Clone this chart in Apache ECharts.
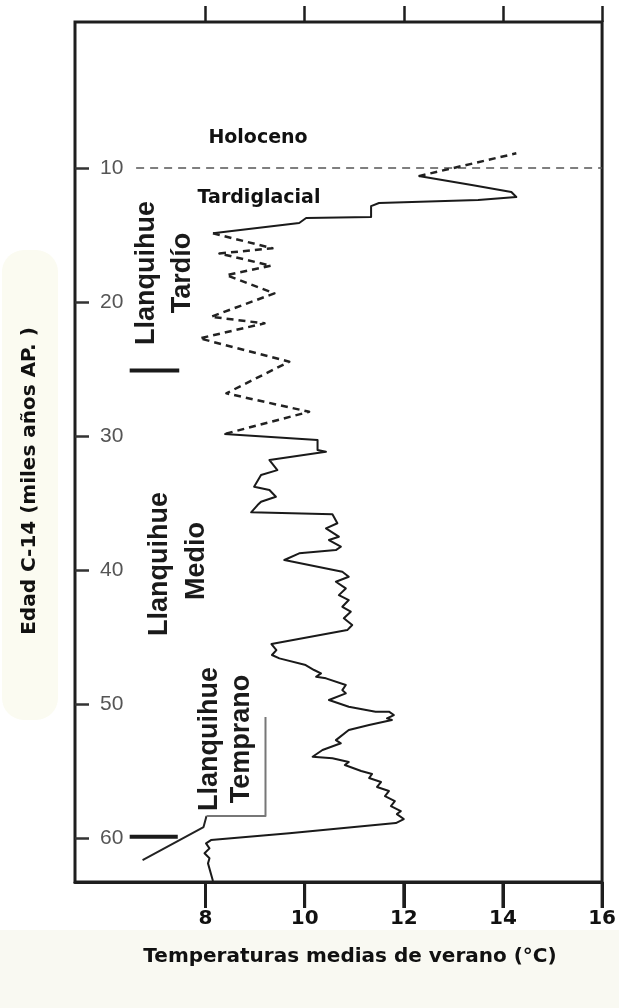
<!DOCTYPE html>
<html><head><meta charset="utf-8">
<script src="https://cdn.jsdelivr.net/npm/echarts@6/dist/echarts.min.js"></script>
<style>html,body{margin:0;padding:0;background:#fff}#c{width:619px;height:1008px}</style>
</head><body><div id="c"></div>
<script>
// ---- data (temperature °C, age ka) ----
const xTicks = [8, 10, 12, 14, 16];
const yTicks = [10, 20, 30, 40, 50, 60];
const holocenoDashed = [[12.30,10.60],[14.27,8.90]];
const tardiglacialSolid = [[12.30,10.60],[13.37,11.27],[14.17,11.79],[14.27,12.16],[13.50,12.39],[11.50,12.61],[11.34,12.84],[11.34,13.66],[10.03,13.73],[9.89,14.10],[8.15,14.87]];
const tardioDashed = [[8.15,14.87],[9.35,15.99],[8.28,16.37],[9.32,17.29],[8.42,17.99],[9.39,19.35],[8.11,21.10],[9.19,21.59],[7.88,22.71],[9.69,24.45],[8.42,26.81],[10.09,28.19],[8.38,29.85]];
const medioTempranoSolid = [[8.38,29.85],[10.26,30.30],[10.26,31.04],[10.43,31.17],[9.29,31.79],[9.45,32.54],[9.12,32.91],[8.98,33.78],[9.29,34.03],[9.42,34.53],[9.12,34.90],[9.05,35.15],[8.92,35.69],[10.56,35.84],[10.66,36.51],[10.43,36.89],[10.69,37.51],[10.49,37.76],[10.73,38.26],[10.63,38.51],[9.89,38.75],[9.59,39.25],[10.76,40.13],[10.89,40.50],[10.63,40.87],[10.83,41.37],[10.69,41.87],[10.89,42.24],[10.76,42.74],[10.93,43.11],[10.79,43.60],[10.96,44.10],[10.86,44.48],[9.33,45.52],[9.43,45.97],[9.34,46.34],[9.49,46.59],[10.02,47.09],[10.19,47.46],[10.33,47.71],[10.23,47.96],[10.43,48.08],[10.83,48.58],[10.76,48.96],[10.83,49.20],[10.49,49.70],[10.89,50.20],[11.43,50.57],[11.70,50.57],[11.80,50.82],[11.66,51.07],[11.76,51.19],[11.30,51.57],[10.89,51.94],[10.63,52.69],[10.73,52.93],[10.36,53.43],[10.16,53.93],[10.56,54.05],[10.89,54.33],[10.81,54.55],[11.14,55.00],[11.36,55.22],[11.30,55.52],[11.54,55.82],[11.46,56.19],[11.70,56.49],[11.62,56.87],[11.82,57.24],[11.74,57.61],[11.94,57.99],[11.86,58.21],[12.00,58.58],[11.84,58.88],[9.69,59.65],[8.11,60.15],[8.01,60.40],[8.08,60.77],[7.98,61.14],[8.08,61.51],[8.05,61.89],[8.15,63.20]];
const holocenoBoundary = [[6.60,10],[16,10]];
const tempranoBracketDark = [[6.73,61.64],[7.96,59.18],[8.02,58.36]];
const tempranoBracketGray = [[8.02,58.36],[9.21,58.36],[9.21,50.97]];
const boundaryBar60 = [[6.47,59.9],[7.44,59.9]];
const boundaryBar25 = [[6.47,25.1],[7.47,25.1]];

const X_MIN = 5.367, X_MAX = 16, Y_MIN = -0.9, Y_MAX = 63.28;
const BOLD = "'DejaVu Sans', sans-serif";
const COND = "'Liberation Sans', Arial, sans-serif";

const chart = echarts.init(document.getElementById('c'), null, {renderer: 'canvas'});

function lineSeries(data, color, width, type) {
  return {type: 'line', data: data, symbol: 'none', silent: true, clip: false,
    lineStyle: {color: color, width: width, type: type || 'solid', cap: 'butt', join: 'round'}};
}

function vText(text, x, y, size) {
  return {type: 'text', x: x, y: y, rotation: Math.PI / 2,
    style: {text: text, fill: '#1a1a1a', font: 'bold ' + size + 'px ' + COND,
      align: 'center', verticalAlign: 'middle'}};
}

const option = {
  animation: false,
  backgroundColor: '#ffffff',
  grid: {left: 75, right: 15, top: 22, bottom: 126, show: true, borderColor: '#1e1e1e', borderWidth: 3, backgroundColor: 'transparent'},
  xAxis: [
    {type: 'value', position: 'bottom', min: X_MIN, max: X_MAX,
      splitLine: {show: false}, axisLine: {show: true, onZero: false, lineStyle: {color: '#1e1e1e', width: 3}},
      axisTick: {show: true, customValues: xTicks, length: 26, lineStyle: {color: '#1e1e1e', width: 3}},
      axisLabel: {customValues: xTicks, margin: 27, fontSize: 20, fontWeight: 'bold', color: '#111', fontFamily: BOLD}},
    {type: 'value', position: 'top', min: X_MIN, max: X_MAX,
      splitLine: {show: false}, axisLine: {show: false, onZero: false},
      axisTick: {show: true, customValues: xTicks, length: 16, lineStyle: {color: '#1e1e1e', width: 2.5}},
      axisLabel: {show: false}}
  ],
  yAxis: [{type: 'value', inverse: true, min: Y_MIN, max: Y_MAX,
    splitLine: {show: false}, axisLine: {show: false, onZero: false},
    axisTick: {show: true, inside: true, customValues: yTicks, length: 14, lineStyle: {color: '#333', width: 2.5}},
    axisLabel: {inside: true, customValues: yTicks, margin: 25, fontSize: 21, color: '#555', fontFamily: "'Liberation Sans', Arial, sans-serif"}}],
  graphic: [
    {type: 'rect', z: -10, shape: {x: 2, y: 250, width: 56, height: 470, r: 22}, style: {fill: '#fbfbf1'}},
    {type: 'rect', z: -10, shape: {x: 0, y: 930, width: 619, height: 78}, style: {fill: '#f9f9f2'}},
    {type: 'text', x: 30, y: 481, rotation: Math.PI / 2,
      style: {text: 'Edad C-14 (miles años AP. )', fill: '#111', font: 'bold 20px ' + BOLD, align: 'center', verticalAlign: 'middle'}},
    {type: 'text', x: 350, y: 957,
      style: {text: 'Temperaturas medias de verano (°C)', fill: '#111', font: 'bold 20px ' + BOLD, align: 'center', verticalAlign: 'middle'}},
    {type: 'text', x: 258, y: 138, style: {text: 'Holoceno', fill: '#111', font: 'bold 19px ' + BOLD, align: 'center', verticalAlign: 'middle'}},
    {type: 'text', x: 259, y: 198, style: {text: 'Tardiglacial', fill: '#111', font: 'bold 19px ' + BOLD, align: 'center', verticalAlign: 'middle'}},
    vText('Llanquihue', 147, 273, 27),
    vText('Tardío', 183, 273, 27),
    vText('Llanquihue', 160, 564, 27),
    vText('Medio', 197, 561, 27),
    vText('Llanquihue', 210, 739, 27),
    vText('Temprano', 242, 739, 27)
  ],
  series: [
    lineSeries(holocenoBoundary, '#555', 1.5, [8, 6]),
    lineSeries(holocenoDashed, '#222', 2.5, [7, 5]),
    lineSeries(tardiglacialSolid, '#1a1a1a', 2),
    lineSeries(tardioDashed, '#222', 2.5, [7, 5]),
    lineSeries(medioTempranoSolid, '#1a1a1a', 2),
    lineSeries(tempranoBracketDark, '#222', 2),
    lineSeries(tempranoBracketGray, '#777', 2),
    lineSeries(boundaryBar60, '#1a1a1a', 4),
    lineSeries(boundaryBar25, '#1a1a1a', 4),
    {type: 'custom', silent: true, clip: false, z: 50, data: xTicks.map(function (v) { return [v]; }),
      renderItem: function (params, api) {
        const p = api.coord([api.value(0), Y_MAX]);
        return {type: 'rect', shape: {x: p[0] - 1.5, y: p[1], width: 3, height: 26},
          style: {fill: '#1e1e1e'}};
      }}
  ]
};
chart.setOption(option);
</script>
</body></html>
